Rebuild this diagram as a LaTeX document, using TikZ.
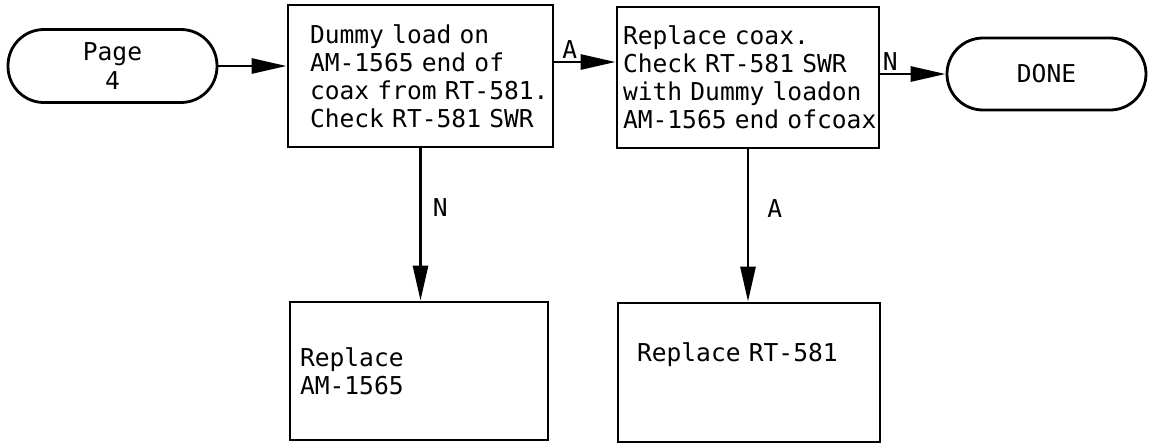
\documentclass[tikz,border=0pt]{standalone}
\usepackage{fontspec}
\setmonofont{DejaVu Sans Mono}
\usetikzlibrary{arrows.meta}
\begin{document}
\begin{tikzpicture}[
  every node/.style={font=\ttfamily\fontsize{14}{16}\selectfont},
  term/.style={draw, line width=1.6pt, rounded corners=0.72cm, minimum height=1.46cm, align=center},
  box/.style={draw, line width=1.6pt, align=left, inner xsep=0pt},
  lpad/.style={execute at begin node={\leftskip=#1}},
  flow/.style={line width=1.6pt, -{Triangle[length=7mm,width=3mm]}}
  ]
 \useasboundingbox (0,0) rectangle (23.02,-8.88);
 \node[term, minimum width=4.18cm] (page) at (2.25,-1.32) {Page\\4};
 \node[box, text width=5.3cm, lpad=0.44cm, minimum height=2.84cm] (dummy) at (8.41,-1.52)
   {Dummy load on\\AM-1565 end of\\coax from RT-581.\\Check RT-581 SWR};
 \node[box, text width=5.24cm, lpad=0.12cm, minimum height=2.82cm] (coax) at (14.96,-1.55)
   {Replace coax.\\Check RT-581 SWR\\with Dummy loadon\\AM-1565 end ofcoax};
 \node[term, minimum width=3.98cm, minimum height=1.44cm] (done) at (20.93,-1.48) {DONE};
 \node[box, text width=5.16cm, lpad=0.2cm, minimum height=2.76cm] (replam) at (8.38,-7.42)
   {Replace\\AM-1565};
 \node[box, text width=5.24cm, lpad=0.38cm, minimum height=2.78cm, text depth=0.8cm] (replrt) at (14.98,-7.45)
   {Replace RT-581};

 \coordinate (ya) at ([yshift=0.28cm]dummy.east);
 \draw[flow] (page.east) -- (page.east -| dummy.west);
 \draw[flow] (ya) -- (ya -| coax.west) node[pos=0.25, above, inner sep=1pt] (la) {A};
 \draw[flow] (done.west -| coax.east) -- (done.west) node[pos=0.15, above, inner sep=1pt] (ln) {N};
 \draw[flow] (dummy.south) -- (dummy.south |- replam.north) node[pos=0.39, right, xshift=0.1cm] (ln2) {N};
 \draw[flow] (coax.south) -- (coax.south |- replrt.north) node[pos=0.39, right, xshift=0.24cm] (la2) {A};
\end{tikzpicture}
\end{document}
